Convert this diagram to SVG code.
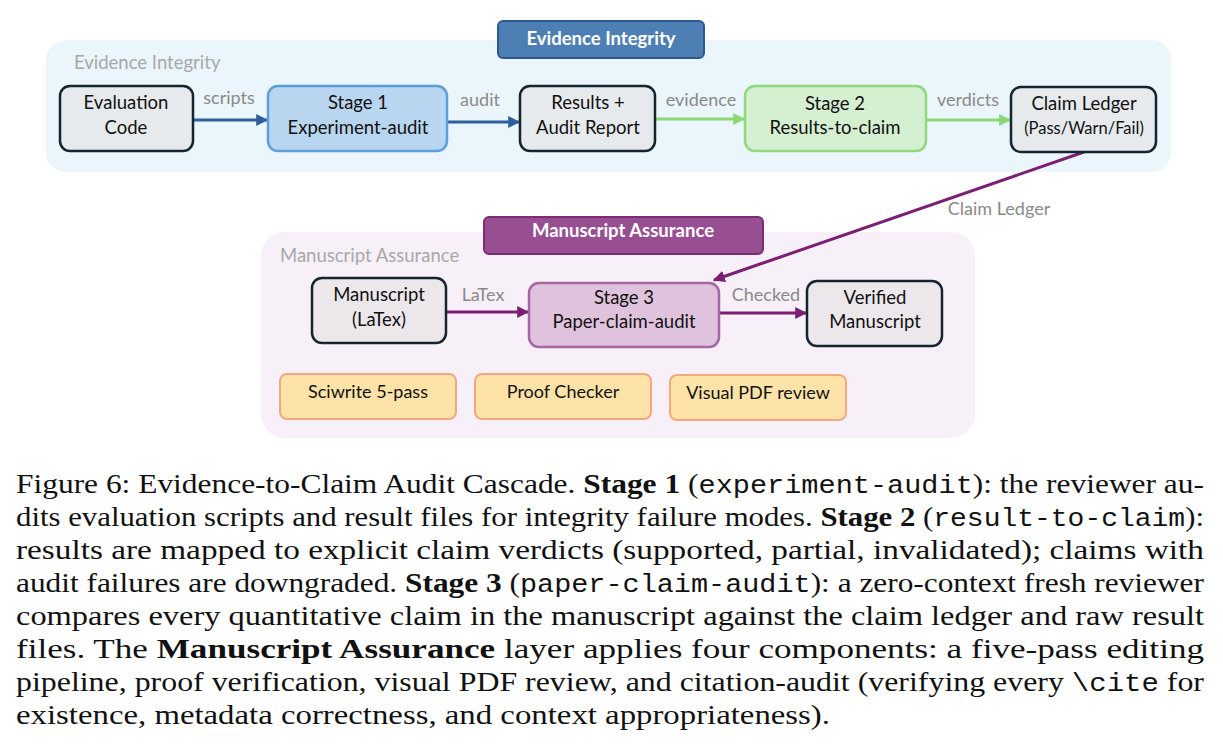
<svg xmlns="http://www.w3.org/2000/svg" width="1223" height="746" viewBox="0 0 1223 746">
<style>
.lbl{font-family:Lato,"Liberation Sans",sans-serif;font-size:18.5px;fill:#111;text-anchor:middle}
.edge{font-family:Lato,"Liberation Sans",sans-serif;font-size:18px;fill:#8a8a8a;text-anchor:middle}
.plabel{font-family:Lato,"Liberation Sans",sans-serif;font-size:18.5px;fill:#a8a8a8}
.title{font-family:Lato,"Liberation Sans",sans-serif;font-size:18.5px;font-weight:bold;fill:#fff;text-anchor:middle}
.dark{fill:#E6EAEC;stroke:#15252F;stroke-width:2.5}
.cap{font-family:"Liberation Serif","Times New Roman",serif;font-size:27.5px;fill:#111}
.b{font-weight:bold}
.m{font-family:"Liberation Mono","Courier New",monospace;font-size:25px}
</style>
<defs>
<marker id="ab" viewBox="0 0 10 10" refX="9" refY="5" markerWidth="4" markerHeight="4" orient="auto"><path d="M0,0L10,5L0,10z" fill="#2B5F9E"/></marker>
<marker id="ag" viewBox="0 0 10 10" refX="9" refY="5" markerWidth="4" markerHeight="4" orient="auto"><path d="M0,0L10,5L0,10z" fill="#8BD874"/></marker>
<marker id="ap" viewBox="0 0 10 10" refX="9" refY="5" markerWidth="4" markerHeight="4" orient="auto"><path d="M0,0L10,5L0,10z" fill="#7B1F75"/></marker>
</defs>
<rect width="1223" height="746" fill="#fff"/>

<g id="panel-evidence">
<rect x="46" y="40" width="1125" height="132" rx="20" fill="#EAF6FB"/>
<text class="plabel" x="74" y="69">Evidence Integrity</text>
<rect x="498" y="21" width="206" height="37" rx="5" fill="#4E7FB4" stroke="#2C5A8C" stroke-width="2"/>
<text class="title" x="601" y="45">Evidence Integrity</text>
</g>

<g id="panel-manuscript">
<rect x="261" y="232" width="714" height="206" rx="24" fill="#F8F0F8"/>
<text class="plabel" x="280" y="262">Manuscript Assurance</text>
<rect x="484" y="217" width="279" height="37" rx="5" fill="#974F91" stroke="#7B2C75" stroke-width="2"/>
<text class="title" x="623" y="237">Manuscript Assurance</text>
</g>

<g id="connectors">
<line x1="194" y1="120" x2="267" y2="120" stroke="#2B5F9E" stroke-width="3" marker-end="url(#ab)"/>
<text class="edge" x="229" y="104">scripts</text>
<line x1="448" y1="122" x2="519" y2="122" stroke="#2B5F9E" stroke-width="3" marker-end="url(#ab)"/>
<text class="edge" x="480" y="106">audit</text>
<line x1="656" y1="119" x2="744" y2="119" stroke="#8BD874" stroke-width="3" marker-end="url(#ag)"/>
<text class="edge" x="701" y="106">evidence</text>
<line x1="926" y1="120" x2="1010" y2="120" stroke="#8BD874" stroke-width="3" marker-end="url(#ag)"/>
<text class="edge" x="968" y="106">verdicts</text>
<line x1="1084" y1="152" x2="714" y2="280" stroke="#7B1F75" stroke-width="3" marker-end="url(#ap)"/>
<text class="edge" x="999" y="215">Claim Ledger</text>
<line x1="446" y1="312" x2="528" y2="312" stroke="#7B1F75" stroke-width="3" marker-end="url(#ap)"/>
<text class="edge" x="483" y="301">LaTex</text>
<line x1="720" y1="313" x2="806" y2="313" stroke="#7B1F75" stroke-width="3" marker-end="url(#ap)"/>
<text class="edge" x="766" y="301">Checked</text>
</g>

<g id="eval-code">
<rect class="dark" x="60" y="86" width="133" height="65" rx="10"/>
<text class="lbl" x="126" y="109">Evaluation</text>
<text class="lbl" x="126" y="134">Code</text>
</g>
<g id="stage1">
<rect x="268" y="86" width="179" height="65" rx="10" fill="#B9D6F0" stroke="#5B9FDF" stroke-width="2.5"/>
<text class="lbl" x="358" y="109">Stage 1</text>
<text class="lbl" x="358" y="134">Experiment-audit</text>
</g>
<g id="results">
<rect class="dark" x="520" y="86" width="135" height="65" rx="10"/>
<text class="lbl" x="588" y="109">Results +</text>
<text class="lbl" x="588" y="134">Audit Report</text>
</g>
<g id="stage2">
<rect x="745" y="86" width="181" height="65" rx="10" fill="#D5EFD1" stroke="#8FD97A" stroke-width="2.5"/>
<text class="lbl" x="835" y="110">Stage 2</text>
<text class="lbl" x="835" y="134">Results-to-claim</text>
</g>
<g id="claim-ledger">
<rect class="dark" x="1011" y="87" width="145" height="65" rx="10"/>
<text class="lbl" x="1084" y="110">Claim Ledger</text>
<text class="lbl" x="1084" y="134" style="font-size:16.5px">(Pass/Warn/Fail)</text>
</g>

<g id="manuscript">
<rect class="dark" x="312" y="278" width="134" height="65" rx="10" style="fill:#ECE7EB"/>
<text class="lbl" x="379" y="301">Manuscript</text>
<text class="lbl" x="379" y="326">(LaTex)</text>
</g>
<g id="stage3">
<rect x="529" y="283" width="190" height="64" rx="10" fill="#DFC3DC" stroke="#A566A3" stroke-width="2.5"/>
<text class="lbl" x="624" y="304">Stage 3</text>
<text class="lbl" x="624" y="328">Paper-claim-audit</text>
</g>
<g id="verified">
<rect class="dark" x="807" y="281" width="135" height="65" rx="10" style="fill:#ECE7EB"/>
<text class="lbl" x="875" y="304">Verified</text>
<text class="lbl" x="875" y="328">Manuscript</text>
</g>
<g id="sciwrite">
<rect x="280" y="374" width="176" height="45" rx="7" fill="#FDE3A7" stroke="#F4A882" stroke-width="2"/>
<text class="lbl" x="368" y="398" style="font-size:18px">Sciwrite 5-pass</text>
</g>
<g id="proof">
<rect x="475" y="374" width="176" height="45" rx="7" fill="#FDE3A7" stroke="#F4A882" stroke-width="2"/>
<text class="lbl" x="563" y="398" style="font-size:18px">Proof Checker</text>
</g>
<g id="visual">
<rect x="670" y="375" width="176" height="45" rx="7" fill="#FDE3A7" stroke="#F4A882" stroke-width="2"/>
<text class="lbl" x="758" y="399" style="font-size:18px">Visual PDF review</text>
</g>

<g id="caption" class="cap">
<text x="16" y="493" textLength="1188" lengthAdjust="spacingAndGlyphs">Figure 6: Evidence-to-Claim Audit Cascade. <tspan class="b">Stage 1</tspan> (<tspan class="m">experiment-audit</tspan>): the reviewer au-</text>
<text x="16" y="526" textLength="1188" lengthAdjust="spacingAndGlyphs">dits evaluation scripts and result files for integrity failure modes. <tspan class="b">Stage 2</tspan> (<tspan class="m">result-to-claim</tspan>):</text>
<text x="16" y="559" textLength="1188" lengthAdjust="spacingAndGlyphs">results are mapped to explicit claim verdicts (supported, partial, invalidated); claims with</text>
<text x="16" y="592" textLength="1188" lengthAdjust="spacingAndGlyphs">audit failures are downgraded. <tspan class="b">Stage 3</tspan> (<tspan class="m">paper-claim-audit</tspan>): a zero-context fresh reviewer</text>
<text x="16" y="625" textLength="1188" lengthAdjust="spacingAndGlyphs">compares every quantitative claim in the manuscript against the claim ledger and raw result</text>
<text x="16" y="658" textLength="1188" lengthAdjust="spacingAndGlyphs">files.  The <tspan class="b">Manuscript Assurance</tspan> layer applies four components:  a five-pass editing</text>
<text x="16" y="691" textLength="1188" lengthAdjust="spacingAndGlyphs">pipeline, proof verification, visual PDF review, and citation-audit (verifying every <tspan class="m">\cite</tspan> for</text>
<text x="16" y="724" textLength="814" lengthAdjust="spacingAndGlyphs">existence, metadata correctness, and context appropriateness).</text>
</g>
</svg>
